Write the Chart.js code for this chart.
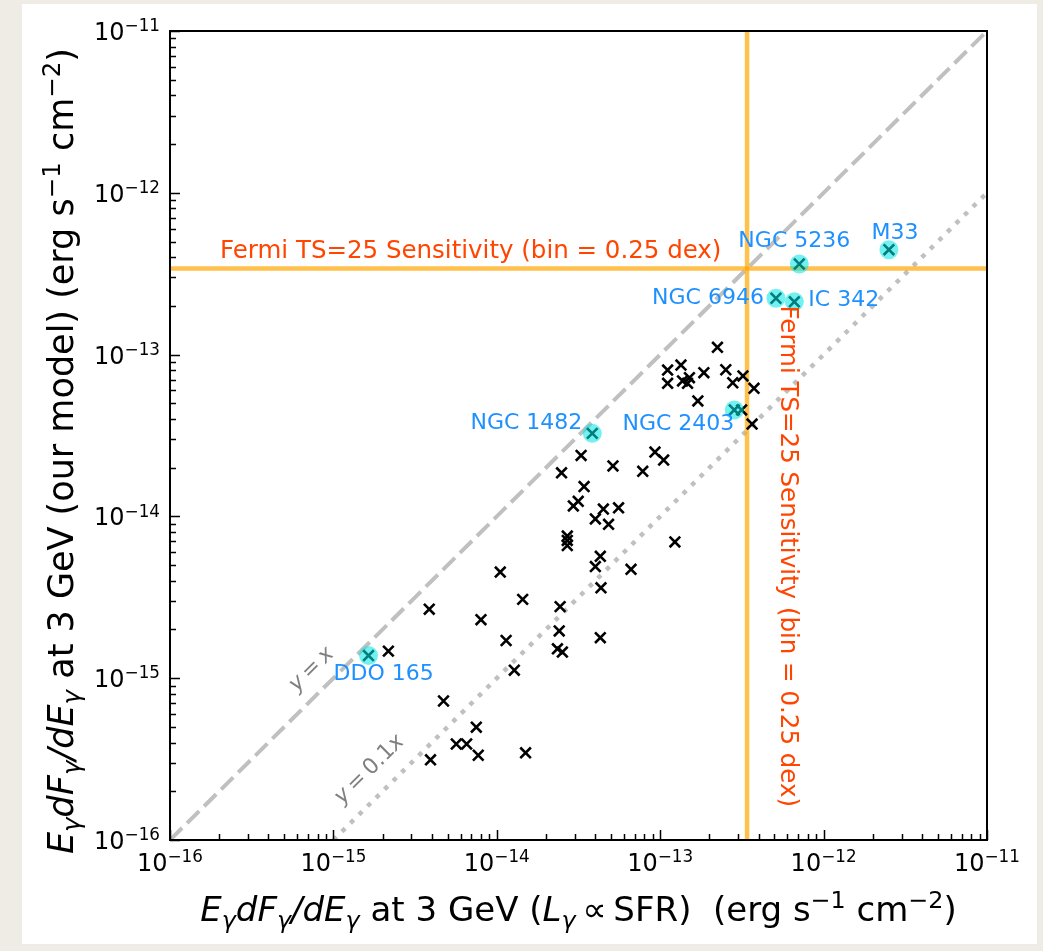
<!DOCTYPE html>
<html>
<head>
<meta charset="utf-8">
<script src="https://cdn.jsdelivr.net/npm/chart.js@4.4.0/dist/chart.umd.min.js"></script>
<style>
  html, body { margin: 0; padding: 0; background: #efece5; }
  canvas { display: block; }
</style>
</head>
<body>
<canvas id="chart" width="1043" height="951" style="width:1043px;height:951px"></canvas>
<script>
// ===============================
// Gamma-ray flux: model vs SFR scaling
// ===============================

// --- Named galaxies (cyan highlights) ---
const galaxyNames = ['DDO 165', 'NGC 1482', 'NGC 2403', 'NGC 5236', 'M33', 'NGC 6946', 'IC 342'];
const galaxySfrFlux = [1.64e-15, 3.84e-14, 2.84e-13, 7.10e-13, 2.51e-12, 5.11e-13, 6.62e-13];
const galaxyModelFlux = [1.38e-15, 3.26e-14, 4.55e-14, 3.63e-13, 4.45e-13, 2.23e-13, 2.12e-13];

// --- Rest of the sample (x = L ∝ SFR, y = our model) ---
const sfrFlux = [
  3.28e-14, 2.49e-14, 5.14e-14, 7.82e-14, 3.42e-14, 3.15e-14, 2.94e-14, 4.49e-14, 5.56e-14, 4.01e-14,
  4.83e-14, 2.70e-14, 2.70e-14, 2.70e-14, 4.30e-14, 4.01e-14, 6.63e-14, 4.34e-14, 1.05e-14, 1.44e-14,
  3.86e-15, 8.00e-15, 2.44e-14, 2.41e-14, 1.14e-14, 4.30e-14, 2.35e-14, 2.52e-14, 2.17e-15, 1.28e-14,
  4.72e-15, 7.49e-15, 5.65e-15, 6.54e-15, 7.70e-15, 3.93e-15, 1.50e-14, 1.23e-13, 9.29e-14, 1.05e-13,
  2.24e-13, 1.11e-13, 1.34e-13, 1.85e-13, 2.52e-13, 1.11e-13, 1.37e-13, 1.47e-13, 1.51e-13, 3.21e-13,
  2.78e-13, 3.75e-13, 1.70e-13, 3.15e-13, 3.65e-13
];
const modelFlux = [
  2.38e-14, 1.86e-14, 2.05e-14, 1.90e-14, 1.53e-14, 1.24e-14, 1.16e-14, 1.11e-14, 1.13e-14, 9.64e-15,
  8.94e-15, 7.56e-15, 7.10e-15, 6.61e-15, 5.67e-15, 4.90e-15, 4.71e-15, 3.62e-15, 4.53e-15, 3.07e-15,
  2.67e-15, 2.30e-15, 2.77e-15, 1.96e-15, 1.71e-15, 1.78e-15, 1.52e-15, 1.45e-15, 1.47e-15, 1.12e-15,
  7.23e-16, 4.98e-16, 3.92e-16, 3.92e-16, 3.34e-16, 3.13e-16, 3.46e-16, 6.95e-15, 2.50e-14, 2.23e-14,
  1.11e-13, 8.03e-14, 8.62e-14, 7.73e-14, 8.06e-14, 6.65e-14, 6.87e-14, 6.65e-14, 7.20e-14, 7.38e-14,
  6.70e-14, 6.19e-14, 5.17e-14, 4.55e-14, 3.72e-14
];

// --- Reference lines ---
const identityX = [1e-16, 1e-11];
const identityY = [1e-16, 1e-11];
const tenthX = [1e-15, 1e-11];
const tenthY = [1e-16, 1e-12];
const fermiSens = 3.4e-13;       // TS=25 sensitivity, 0.25 dex bins

// --- Axis ticks ---
const axisMin = 1e-16;
const axisMax = 1e-11;
const majorTicks = [1e-16, 1e-15, 1e-14, 1e-13, 1e-12, 1e-11];
const tickExponents = ['\u221216', '\u221215', '\u221214', '\u221213', '\u221212', '\u221211'];
const minorTicks = [];
for (let e = -16; e < -11; e++) {
  for (let m = 2; m <= 9; m++) minorTicks.push(m * Math.pow(10, e));
}

// --- Label placement (pixels from point): dx, dy, align ---
const galaxyLabelPos = [
  [-35, 19, 'left'], [-10, -10, 'right'], [0, 14, 'right'], [-5, -23, 'center'],
  [6, -16, 'center'], [-12, 0, 'right'], [14, -2, 'left']
];

const SANS = '"DejaVu Sans", sans-serif';
function font(size, italic) {
  return (italic ? 'italic ' : '') + size + 'px ' + SANS;
}

// --- Rich text helpers (sub/superscripts, italics) ---
const I = t => ({ t, it: true });
const N = t => ({ t });
const SUB = t => ({ t, it: true, sub: true });
const SUP = t => ({ t, sup: true });

function runsWidth(ctx, runs, size) {
  let w = 0;
  runs.forEach(r => {
    ctx.font = font(r.sub || r.sup ? size * 0.7 : size, r.it);
    w += ctx.measureText(r.t).width;
  });
  return w;
}

function drawRuns(ctx, runs, size, x, y, align) {
  const w = runsWidth(ctx, runs, size);
  let cx = align === 'center' ? x - w / 2 : align === 'right' ? x - w : x;
  ctx.textAlign = 'left';
  ctx.textBaseline = 'alphabetic';
  runs.forEach(r => {
    const s = r.sub || r.sup ? size * 0.7 : size;
    ctx.font = font(s, r.it);
    const dy = r.sub ? size * 0.2 : r.sup ? -size * 0.37 : 0;
    ctx.fillText(r.t, cx, y + dy);
    cx += ctx.measureText(r.t).width;
  });
}

const fluxRuns = [I('E'), SUB('\u03b3'), I('dF'), SUB('\u03b3'), I('/dE'), SUB('\u03b3')];
const yTitleRuns = fluxRuns.concat([N(' at 3 GeV (our model) (erg s'), SUP('\u22121'), N(' cm'), SUP('\u22122'), N(')')]);
const xTitleRuns = fluxRuns.concat([N(' at 3 GeV ('), I('L'), SUB('\u03b3'), N('\u2009\u221d\u2009SFR)  (erg s'), SUP('\u22121'), N(' cm'), SUP('\u22122'), N(')')]);
const yxRuns = [I('y'), N('\u2009=\u2009'), I('x')];
const y01Runs = [I('y'), N('\u2009=\u2009'), N('0.1'), I('x')];

// --- Decorations: panel, frame, inward ticks, labels, titles ---
const decor = {
  id: 'decor',
  beforeDraw(chart) {
    const ctx = chart.ctx;
    ctx.save();
    ctx.fillStyle = '#efece5';
    ctx.fillRect(0, 0, chart.width, chart.height);
    ctx.fillStyle = '#ffffff';
    ctx.fillRect(22, 4, 1015, 940);
    ctx.restore();
  },
  afterDatasetsDraw(chart) {
    const ctx = chart.ctx;
    const a = chart.chartArea;
    const xs = chart.scales.x;
    const ys = chart.scales.y;
    ctx.save();

    // ticks pointing inward
    ctx.strokeStyle = '#000';
    ctx.lineWidth = 1.5;
    ctx.beginPath();
    majorTicks.forEach(v => {
      const px = Math.round(xs.getPixelForValue(v)) + 0.5;
      ctx.moveTo(px, a.bottom); ctx.lineTo(px, a.bottom - 10);
      const py = Math.round(ys.getPixelForValue(v)) + 0.5;
      ctx.moveTo(a.left, py); ctx.lineTo(a.left + 10, py);
    });
    minorTicks.forEach(v => {
      const px = Math.round(xs.getPixelForValue(v)) + 0.5;
      ctx.moveTo(px, a.bottom); ctx.lineTo(px, a.bottom - 6);
      const py = Math.round(ys.getPixelForValue(v)) + 0.5;
      ctx.moveTo(a.left, py); ctx.lineTo(a.left + 6, py);
    });
    ctx.stroke();

    // frame
    ctx.lineWidth = 2;
    ctx.strokeRect(a.left, a.top, a.right - a.left, a.bottom - a.top);

    // tick labels
    ctx.fillStyle = '#000';
    majorTicks.forEach((v, i) => {
      const runs = [N('10'), SUP(tickExponents[i])];
      drawRuns(ctx, runs, 24, xs.getPixelForValue(v), a.bottom + 31, 'center');
      drawRuns(ctx, runs, 24, a.left - 10, ys.getPixelForValue(v) + 9, 'right');
    });

    // axis titles
    drawRuns(ctx, xTitleRuns, 34, (a.left + a.right) / 2, 921, 'center');
    ctx.save();
    ctx.translate(73, 451);
    ctx.rotate(-Math.PI / 2);
    drawRuns(ctx, yTitleRuns, 35, 0, 0, 'center');
    ctx.restore();

    // Fermi sensitivity texts
    ctx.fillStyle = '#ff4500';
    ctx.font = font(24.5, false);
    ctx.textAlign = 'left';
    ctx.textBaseline = 'alphabetic';
    const sensY = ys.getPixelForValue(fermiSens);
    const sensX = xs.getPixelForValue(fermiSens);
    ctx.fillText('Fermi TS=25 Sensitivity (bin = 0.25 dex)', a.left + 50, sensY - 11);
    ctx.save();
    ctx.translate(sensX + 40, sensY + 37);
    ctx.rotate(Math.PI / 2);
    ctx.textBaseline = 'middle';
    ctx.fillText('Fermi TS=25 Sensitivity (bin = 0.25 dex)', 0, 0);
    ctx.restore();

    // reference line labels
    const ang = Math.atan2(ys.getPixelForValue(1e-11) - ys.getPixelForValue(1e-16),
                           xs.getPixelForValue(1e-11) - xs.getPixelForValue(1e-16));
    ctx.fillStyle = '#808080';
    [[yxRuns, 7.2e-16, 1.16e-15], [y01Runs, 1.63e-15, 2.79e-16]].forEach(([runs, lx, ly]) => {
      ctx.save();
      ctx.translate(xs.getPixelForValue(lx), ys.getPixelForValue(ly));
      ctx.rotate(ang);
      drawRuns(ctx, runs, 22, 0, 8, 'center');
      ctx.restore();
    });

    // galaxy names
    ctx.fillStyle = '#1e90ff';
    ctx.font = font(22, false);
    ctx.textBaseline = 'middle';
    galaxyNames.forEach((name, i) => {
      const [dx, dy, align] = galaxyLabelPos[i];
      ctx.textAlign = align;
      ctx.fillText(name, xs.getPixelForValue(galaxySfrFlux[i]) + dx, ys.getPixelForValue(galaxyModelFlux[i]) + dy);
    });
    ctx.restore();
  }
};

const toPoints = (xArr, yArr) => xArr.map((x, i) => ({ x, y: yArr[i] }));

const ctx = document.getElementById('chart').getContext('2d');
new Chart(ctx, {
  type: 'scatter',
  data: {
    datasets: [
      { label: 'y = x', data: toPoints(identityX, identityY), showLine: true, pointRadius: 0,
        borderColor: '#c0c0c0', borderWidth: 4, borderDash: [17, 7], order: 5 },
      { label: 'y = 0.1x', data: toPoints(tenthX, tenthY), showLine: true, pointRadius: 0,
        borderColor: '#c0c0c0', borderWidth: 4.5, borderDash: [4.5, 7.5], order: 5 },
      { label: 'Fermi (flux)', data: toPoints([axisMin, axisMax], [fermiSens, fermiSens]), showLine: true, pointRadius: 0,
        borderColor: 'rgba(255,165,0,0.7)', borderWidth: 4.5, order: 3 },
      { label: 'Fermi (SFR)', data: toPoints([fermiSens, fermiSens], [axisMin, axisMax]), showLine: true, pointRadius: 0,
        borderColor: 'rgba(255,165,0,0.7)', borderWidth: 4.5, order: 3 },
      { label: 'Galaxies', data: toPoints(sfrFlux, modelFlux), pointStyle: 'crossRot', pointRadius: 7.5,
        borderColor: '#000', borderWidth: 2.6, order: 2 },
      { label: 'Named', data: toPoints(galaxySfrFlux, galaxyModelFlux), pointStyle: 'crossRot', pointRadius: 7.5,
        borderColor: '#000', borderWidth: 2.6, order: 1 },
      { label: 'Named highlight', data: toPoints(galaxySfrFlux, galaxyModelFlux), pointStyle: 'circle', pointRadius: 9.5,
        backgroundColor: 'rgba(0,230,230,0.55)', borderWidth: 0, order: 0 }
    ]
  },
  options: {
    responsive: false,
    animation: false,
    devicePixelRatio: 1,
    layout: { padding: { left: 0, top: 31, right: 56, bottom: 0 } },
    plugins: { legend: { display: false }, tooltip: { enabled: false } },
    scales: {
      x: {
        type: 'logarithmic', min: axisMin, max: axisMax, position: 'bottom',
        grid: { display: false, drawTicks: false }, border: { display: false },
        ticks: { display: false },
        afterFit(scale) { scale.height = 111; scale.paddingLeft = 0; scale.paddingRight = 0; }
      },
      y: {
        type: 'logarithmic', min: axisMin, max: axisMax, position: 'left',
        grid: { display: false, drawTicks: false }, border: { display: false },
        ticks: { display: false },
        afterFit(scale) { scale.width = 170; scale.paddingTop = 0; scale.paddingBottom = 0; }
      }
    }
  },
  plugins: [decor]
});
</script>
</body>
</html>
